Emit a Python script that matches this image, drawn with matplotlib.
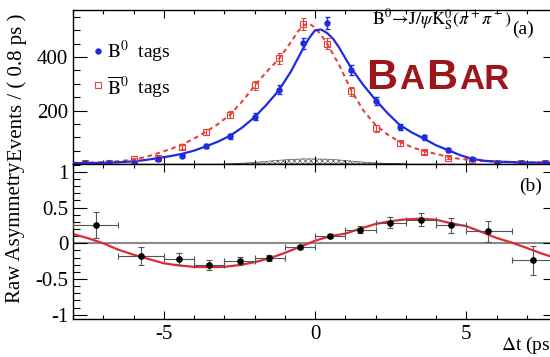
import numpy as np
import matplotlib
matplotlib.use("Agg")
import matplotlib.pyplot as plt
from matplotlib.ticker import MultipleLocator
from matplotlib.offsetbox import TextArea, HPacker, AnnotationBbox

plt.rcParams["font.family"] = ["Liberation Serif", "DejaVu Serif"]
plt.rcParams["mathtext.fontset"] = "stix"
plt.rcParams["axes.unicode_minus"] = False
plt.rcParams["hatch.linewidth"] = 0.5

# ---- data -------------------------------------------------------------
# tagged event counts per 0.8 ps bin
bin_centers = [-7.6, -6.8, -6.0, -5.2, -4.4, -3.6, -2.8, -2.0, -1.2, -0.4,
               0.4, 1.2, 2.0, 2.8, 3.6, 4.4, 5.2, 6.0, 6.8, 7.6]
b0_counts = [3, 3, 5, 20, 31, 66, 104, 176, 277, 451,
             527, 353, 235, 138, 100, 52, 18, 5, 3, 2]
b0_errors = [2, 2, 2, 4, 6, 8, 10, 13, 17, 21,
             23, 19, 15, 12, 10, 7, 4, 2, 2, 1.5]
b0bar_counts = [3, 5, 19, 24, 64, 121, 185, 295, 395, 524,
                450, 272, 133, 77, 45, 24, 14, 5, 3, 2]
b0bar_errors = [2, 2, 4, 5, 8, 11, 14, 17, 20, 23,
                21, 16, 12, 9, 7, 5, 4, 2, 2, 1.5]

# fit projections
fit_t = [-8.0, -7.2, -6.4, -6.0, -5.6, -5.2, -4.8, -4.4, -4.0, -3.6, -3.2,
         -2.8, -2.4, -2.0, -1.6, -1.2, -0.8, -0.6, -0.4, -0.2, 0.0, 0.2,
         0.4, 0.6, 0.8, 1.2, 1.6, 2.0, 2.4, 2.8, 3.2, 3.6, 4.0, 4.4, 4.8,
         5.2, 5.6, 6.0, 6.8, 7.6, 8.0]
fit_b0 = [3, 4, 7, 10, 15, 22, 29, 38, 50, 66, 84,
          106, 137, 175, 222, 275, 345, 388, 430, 470, 500, 503,
          490, 468, 435, 358, 295, 240, 190, 146, 118, 95, 70, 52, 33,
          19, 12, 9, 6, 5, 4]
fit_b0bar = [4, 6, 11, 17, 26, 40, 55, 72, 95, 121, 150,
             185, 235, 292, 345, 392, 455, 490, 518, 526, 510, 483,
             450, 410, 370, 275, 200, 146, 110, 83, 63, 48, 38, 26, 19,
             15, 11, 9, 6, 5, 4]

# background component
bkg_t = [-3.0, -2.4, -2.0, -1.6, -1.2, -0.8, -0.4, 0.0, 0.4, 0.8, 1.2,
         1.6, 2.0, 2.4, 3.0]
bkg_counts = [0, 3, 6, 10, 14, 17, 19, 19, 18, 15, 11, 7, 4, 2, 0]

# raw asymmetry in variable-width bins
asym_edges = [-8.0, -6.5, -5.0, -4.0, -3.0, -2.0, -1.0, 0.0, 1.0, 2.0,
              3.0, 4.0, 5.0, 6.5, 8.0]
asym_t = [-7.24, -5.76, -4.49, -3.5, -2.49, -1.52, -0.51, 0.5, 1.49,
          2.48, 3.5, 4.5, 5.73, 7.22]
asym_vals = [0.26, -0.18, -0.22, -0.31, -0.25, -0.21, -0.05, 0.10, 0.19,
             0.29, 0.33, 0.25, 0.17, -0.24]
asym_errs = [0.18, 0.125, 0.09, 0.07, 0.06, 0.04, 0.03, 0.03, 0.05,
             0.08, 0.09, 0.105, 0.145, 0.2]

asym_fit_t = [-8.0, -7.5, -7.0, -6.5, -6.0, -5.5, -5.0, -4.5, -4.0, -3.5,
              -3.0, -2.5, -2.0, -1.5, -1.0, -0.5, 0.0, 0.5, 1.0, 1.5, 2.0,
              2.5, 3.0, 3.5, 4.0, 4.5, 5.0, 5.5, 6.0, 6.5, 7.0, 7.5, 8.0]
asym_fit = [0.13, 0.07, 0.0, -0.09, -0.16, -0.22, -0.28, -0.31, -0.33,
            -0.335, -0.33, -0.305, -0.265, -0.21, -0.135, -0.05, 0.035,
            0.10, 0.135, 0.205, 0.27, 0.31, 0.335, 0.345, 0.33, 0.28, 0.24,
            0.16, 0.075, 0.01, -0.065, -0.145, -0.21]

# ---- figure -----------------------------------------------------------
W, H = 550, 357
fig = plt.figure(figsize=(W / 100, H / 100), dpi=100)
fig.patch.set_facecolor("white")

x0, x1 = 73, 557
ax1 = fig.add_axes([x0 / W, 1 - 164 / H, (x1 - x0) / W, (164 - 10) / H])
ax2 = fig.add_axes([x0 / W, 1 - 319 / H, (x1 - x0) / W, (319 - 164) / H])

blue = "#1f2be0"
red = "#e8403a"

# top panel: tagged distributions
ax1.fill_between(bkg_t, 0, bkg_counts, facecolor="none", edgecolor="#555555",
                 hatch="xxxxxx", linewidth=0.5, zorder=1)
ax1.plot(fit_t, fit_b0bar, color=red, lw=1.5, ls=(0, (2.2, 1.8)), zorder=2)
ax1.plot(fit_t, fit_b0, color=blue, lw=1.6, zorder=3)
ax1.errorbar(bin_centers, b0bar_counts, yerr=b0bar_errors, fmt="s", ms=4.5,
             mfc="none", mec=red, mew=0.8, ecolor=red, elinewidth=0.8,
             capsize=1.8, zorder=4)
ax1.errorbar(bin_centers, b0_counts, yerr=b0_errors, fmt="o", ms=3.6,
             color=blue, ecolor=blue, elinewidth=1.0, capsize=1.8, zorder=5)

ax1.set_xlim(-8, 8)
ax1.set_ylim(0, 576)
ax1.yaxis.set_minor_locator(MultipleLocator(50))
ax1.xaxis.set_major_locator(MultipleLocator(5))
ax1.xaxis.set_minor_locator(MultipleLocator(1))
ax1.set_yticks([200, 400])
ax1.set_yticklabels(["200", "400"])
ax1.set_xticklabels([])
ax1.set_ylabel("Events / ( 0.8 ps )", fontsize=15)
ax1.yaxis.set_label_coords(-0.095, 0.5)

ax1.text(0.617, 0.94, r"$\mathrm{B}^0\!\rightarrow\!\mathrm{J}/\psi\mathrm{K}^0_\mathrm{S}(\pi^+\pi^-)$",
         transform=ax1.transAxes, fontsize=13, ha="left", va="center")
ax1.text(0.908, 0.875, "(a)", transform=ax1.transAxes, fontsize=14,
         ha="left", va="center")

# legend
ax1.plot([0.052], [0.733], "o", ms=3.6, color=blue, transform=ax1.transAxes,
         clip_on=False)
ax1.text(0.070, 0.727, r"$\mathrm{B}^0$  tags", transform=ax1.transAxes,
         fontsize=14, ha="left", va="center")
ax1.plot([0.052], [0.513], "s", ms=4.5, mfc="none", mec=red, mew=0.8,
         transform=ax1.transAxes, clip_on=False)
ax1.text(0.070, 0.500, r"$\overline{\mathrm{B}}^0$  tags", transform=ax1.transAxes,
         fontsize=14, ha="left", va="center")

# BaBar logo
logo_props = dict(color="#9c161c", fontweight="bold", family="Liberation Sans")
big = dict(logo_props, fontsize=31)
small = dict(logo_props, fontsize=25)
letters = [TextArea("B", textprops=big), TextArea("A", textprops=small),
           TextArea("B", textprops=big), TextArea("AR", textprops=small)]
logo = HPacker(children=letters, align="baseline", pad=0, sep=1.5)
ab = AnnotationBbox(logo, (0.605, 0.43), xycoords=ax1.transAxes,
                    box_alignment=(0, 0), frameon=False, pad=0)
ax1.add_artist(ab)

# bottom panel: raw asymmetry
ax2.axhline(0, color="#8a8a8a", lw=1.5, zorder=1)
ax2.plot(asym_fit_t, asym_fit, color="#e02a36", lw=1.6, zorder=2)
xlo = [t - e for t, e in zip(asym_t, asym_edges[:-1])]
xhi = [e - t for t, e in zip(asym_t, asym_edges[1:])]
ax2.errorbar(asym_t, asym_vals, yerr=asym_errs, xerr=[xlo, xhi], fmt="o",
             ms=3.8, color="black", ecolor="#555555", elinewidth=0.8,
             capsize=2.2, capthick=0.8, zorder=3)

ax2.set_xlim(-8, 8)
ax2.set_ylim(-1.06, 1.11)
ax2.set_yticks([-1, -0.5, 0, 0.5, 1])
ax2.set_yticklabels(["-1", "-0.5", "0", "0.5", "1"])
ax2.yaxis.set_minor_locator(MultipleLocator(0.1))
ax2.xaxis.set_minor_locator(MultipleLocator(1))
ax2.set_xticks([-5, 0, 5])
ax2.set_xticklabels(["-5", "0", "5"])
ax2.set_ylabel("Raw Asymmetry", fontsize=15)
ax2.yaxis.set_label_coords(-0.1, 0.56)
ax2.text(0.922, 0.855, "(b)", transform=ax2.transAxes, fontsize=14,
         ha="left", va="center")
ax2.text(1.0, -0.10, r"$\Delta$t (ps)", transform=ax2.transAxes, fontsize=14,
         ha="right", va="top")

for ax in (ax1, ax2):
    ax.tick_params(axis="both", which="both", direction="in", top=True,
                   right=True, labelsize=15, width=0.8, colors="black")
    ax.tick_params(axis="y", which="major", length=10)
    ax.tick_params(axis="y", which="minor", length=5)
    ax.tick_params(axis="x", which="major", length=6)
    ax.tick_params(axis="x", which="minor", length=3)
    for s in ax.spines.values():
        s.set_linewidth(1.0)
ax2.tick_params(axis="x", pad=4)

fig.savefig("out.png", dpi=100)
